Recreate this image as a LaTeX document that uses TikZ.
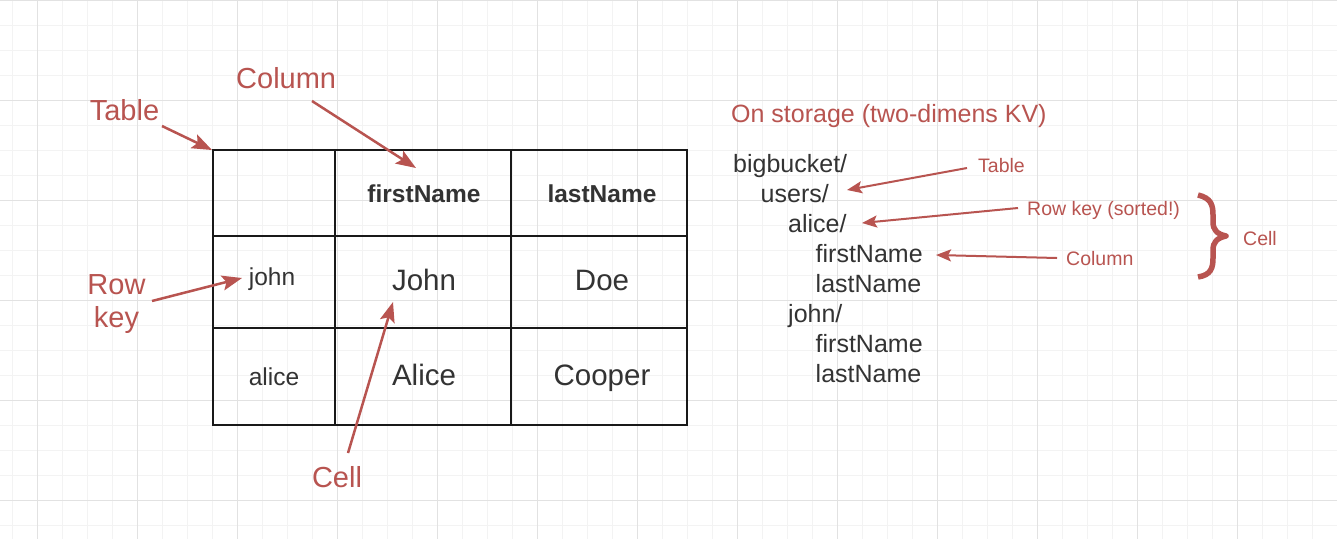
\documentclass[tikz,border=0pt]{standalone}
\usepackage{fontspec}
\setmainfont{Liberation Sans}
\usetikzlibrary{arrows.meta}
\definecolor{lred}{HTML}{B85450}
\definecolor{ink}{HTML}{333333}
\definecolor{gmaj}{HTML}{E2E2E2}
\definecolor{gmin}{HTML}{F3F3F3}
\tikzset{
  bigred/.style={text=lred, font=\fontsize{29}{33}\selectfont, inner sep=0pt, anchor=base},
  smallred/.style={text=lred, font=\fontsize{19.5}{22}\selectfont, inner sep=0pt, anchor=base west},
  kvtext/.style={text=ink, font=\fontsize{25}{30}\selectfont, inner sep=0pt, anchor=base west},
  hdr/.style={text=ink, font=\fontsize{24.5}{28}\selectfont\bfseries, inner sep=0pt, anchor=base},
  keytext/.style={text=ink, font=\fontsize{24.5}{28}\selectfont, inner sep=0pt, anchor=base},
  valtext/.style={text=ink, font=\fontsize{29.5}{33}\selectfont, inner sep=0pt, anchor=base},
  cellbox/.style={draw=black!90, line width=2.5pt, inner sep=0pt, minimum width=#1},
  bigarrow/.style={draw=lred, line width=2.5pt, -{Stealth[length=20pt,width=15pt,inset=4pt]}},
  smallarrow/.style={draw=lred, line width=2pt, -{Stealth[length=15pt,width=12pt,inset=3pt]}},
  gridminor/.style={draw=gmin, line width=1pt},
  gridmajor/.style={draw=gmaj, line width=1pt},
}
\begin{document}
\begin{tikzpicture}[x=1pt,y=-1pt]
\fill[white] (0,0) rectangle (1337,539);
\useasboundingbox (0,0) rectangle (1337,539);
% grid
\foreach \gx in {12,37,...,1337} {\draw[gridminor] (\gx,0) -- (\gx,539);}
\foreach \gy in {0,25,...,539} {\draw[gridminor] (0,\gy) -- (1337,\gy);}
\foreach \gx in {37,137,...,1337} {\draw[gridmajor] (\gx,0) -- (\gx,539);}
\foreach \gy in {0,100,...,539} {\draw[gridmajor] (0,\gy) -- (1337,\gy);}

% table cells
\node[cellbox=122pt, minimum height=86pt] (c00) at (274,193) {};
\node[cellbox=176pt, minimum height=86pt] (c01) at (423,193) {};
\node[cellbox=176pt, minimum height=86pt] (c02) at (599,193) {};
\node[cellbox=122pt, minimum height=92pt] (c10) at (274,282) {};
\node[cellbox=176pt, minimum height=92pt] (c11) at (423,282) {};
\node[cellbox=176pt, minimum height=92pt] (c12) at (599,282) {};
\node[cellbox=122pt, minimum height=97pt] (c20) at (274,376.5) {};
\node[cellbox=176pt, minimum height=97pt] (c21) at (423,376.5) {};
\node[cellbox=176pt, minimum height=97pt] (c22) at (599,376.5) {};

% table text
\node[hdr] (hfirst) at (424,202) {firstName};
\node[hdr] (hlast) at (602,202) {lastName};
\node[keytext] (kjohn) at (272,285) {john};
\node[valtext] (vjohn) at (424,290) {John};
\node[valtext] (vdoe) at (602,290) {Doe};
\node[keytext] (kalice) at (274,385) {alice};
\node[valtext] (valice) at (424,385) {Alice};
\node[valtext] (vcooper) at (602,385) {Cooper};

% left labels
\node[bigred] (ltable) at (124.5,120) {Table};
\node[bigred, anchor=base west] (lcolumn) at (236,88) {Column};
\node[bigred] (lrow) at (116.5,294) {Row};
\node[bigred] (lkey) at (116.5,327) {key};
\node[bigred] (lcell) at (337,487) {Cell};

\coordinate (atable0) at (162,126);
\coordinate (atable1) at (212,150);
\coordinate (acol0) at (312,101);
\coordinate (acol1) at (416,168);
\coordinate (arow0) at (152,301);
\coordinate (arow1) at (242,278);
\coordinate (acell0) at (348,453);
\coordinate (acell1) at (393,302);
\draw[bigarrow] (atable0) -- (atable1);
\draw[bigarrow] (acol0) -- (acol1);
\draw[bigarrow] (arow0) -- (arow1);
\draw[bigarrow] (acell0) -- (acell1);

% right side
\node[text=lred, font=\fontsize{25}{30}\selectfont, inner sep=0pt, anchor=base west] (ontitle) at (731,122.5) {On storage (two-dimens KV)};
\node[kvtext] (kbucket) at (733,172.5) {bigbucket/};
\node[kvtext] (kusers) at (760.5,202) {users/};
\node[kvtext] (kalice2) at (788,232) {alice/};
\node[kvtext] (kaf) at (815.5,262) {firstName};
\node[kvtext] (kal) at (815.5,292) {lastName};
\node[kvtext] (kjohn2) at (788,322) {john/};
\node[kvtext] (kjf) at (815.5,352) {firstName};
\node[kvtext] (kjl) at (815.5,382) {lastName};

\node[smallred] (rtable) at (978,172.5) {Table};
\node[smallred] (rrow) at (1027,215) {Row key (sorted!)};
\node[smallred] (rcol) at (1066,265) {Column};
\node[smallred] (rcell) at (1243,245) {Cell};

\coordinate (rt0) at (967,168);
\coordinate (rt1) at (847,190);
\coordinate (rr0) at (1018,208);
\coordinate (rr1) at (862,223);
\coordinate (rc0) at (1057,258);
\coordinate (rc1) at (936,255);
\draw[smallarrow] (rt0) -- (rt1);
\draw[smallarrow] (rr0) -- (rr1);
\draw[smallarrow] (rc0) -- (rc1);

% brace
\draw[lred, line width=5.5pt, line join=round] (1198,195) .. controls (1211,198) and (1213,205) .. (1213,215) -- (1213,222) .. controls (1213,230) and (1217,234) .. (1226,236) .. controls (1217,238) and (1213,242) .. (1213,250) -- (1213,258) .. controls (1213,268) and (1211,275) .. (1198,277);
\end{tikzpicture}
\end{document}
